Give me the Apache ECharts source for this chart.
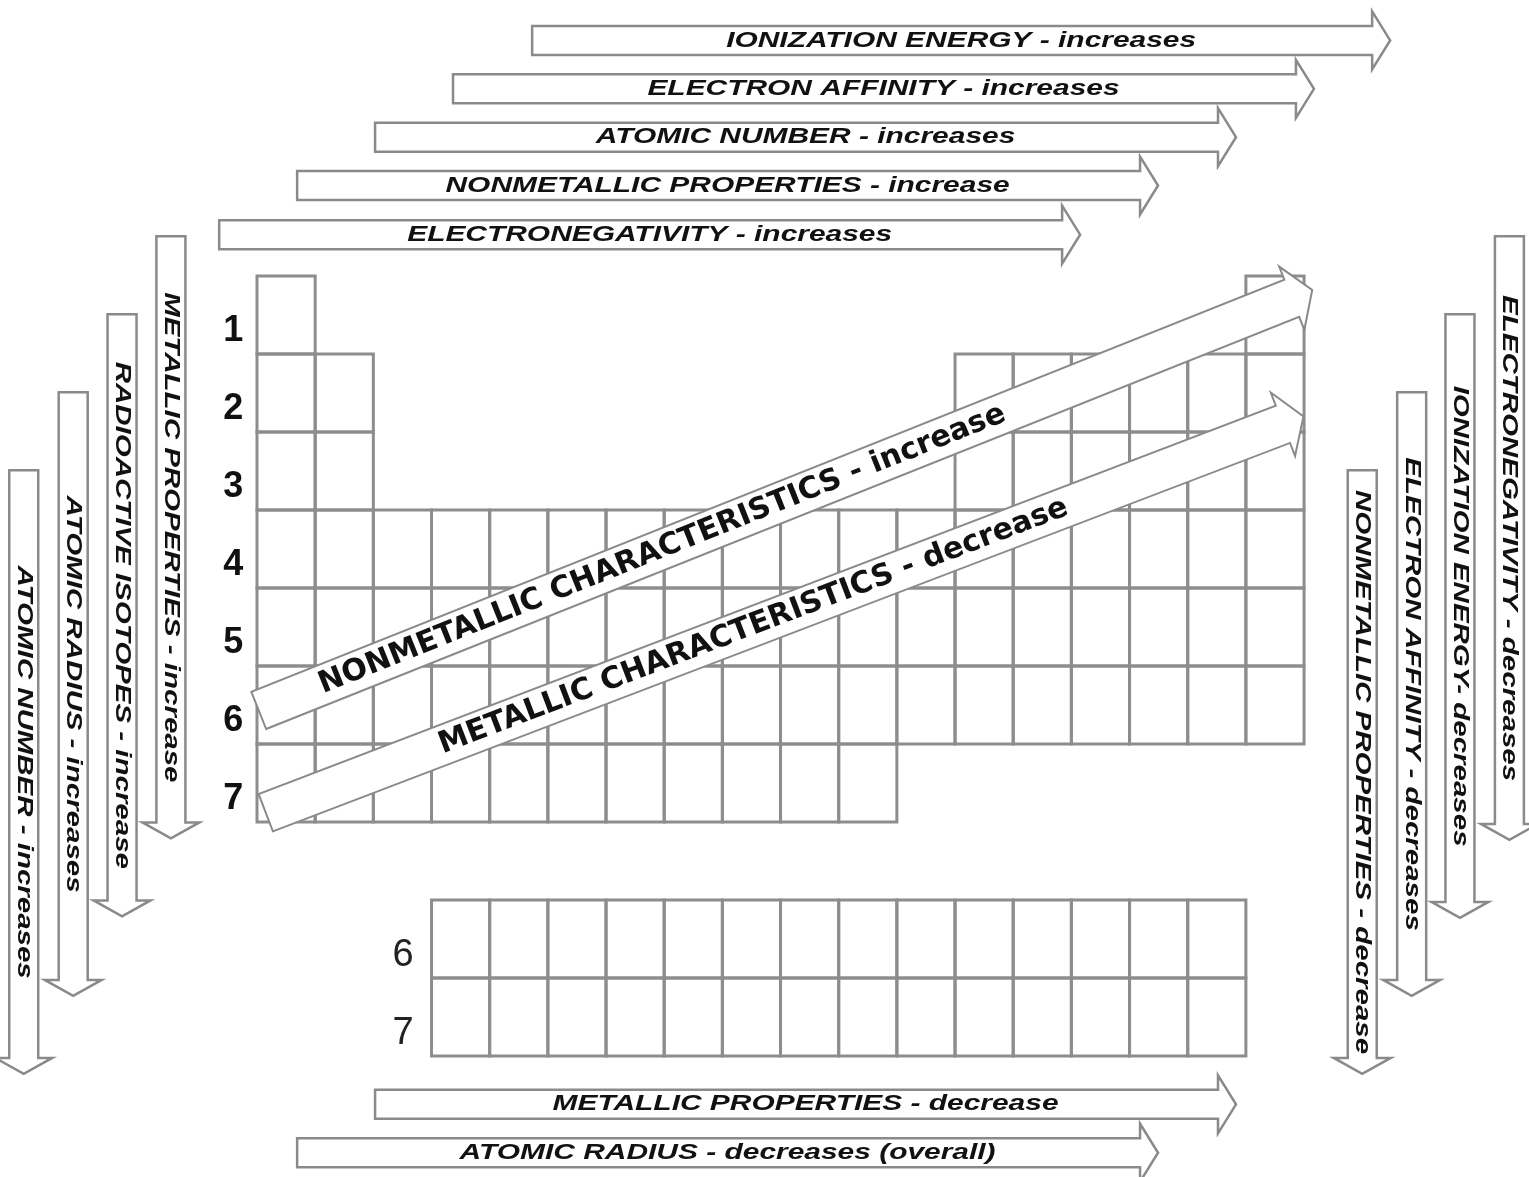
<!DOCTYPE html>
<html>
<head>
<meta charset="utf-8">
<style>
html,body{margin:0;padding:0;background:#ffffff;}
#chart{width:1529px;height:1177px;}
</style>
<script src="https://cdn.jsdelivr.net/npm/echarts@6/dist/echarts.min.js"></script>
</head>
<body>
<div id="chart"></div>
<script>
// ---------- DATA ----------
// Main table: groups present in each period (period = row slot)
const periodLabels = ['1', '2', '3', '4', '5', '6', '7'];
const period1Groups = [1, 18];
const period2Groups = [1, 2, 13, 14, 15, 16, 17, 18];
const period3Groups = [1, 2, 13, 14, 15, 16, 17, 18];
const period4Groups = [1, 2, 3, 4, 5, 6, 7, 8, 9, 10, 11, 12, 13, 14, 15, 16, 17, 18];
const period5Groups = [1, 2, 3, 4, 5, 6, 7, 8, 9, 10, 11, 12, 13, 14, 15, 16, 17, 18];
const period6Groups = [1, 2, 3, 4, 5, 6, 7, 8, 9, 10, 11, 12, 13, 14, 15, 16, 17, 18];
const period7Groups = [1, 2, 3, 4, 5, 6, 7, 8, 9, 10, 11];
// Detached f-block (periods 6 and 7), drawn in row slots 9 and 10
const fBlockLabels = ['6', '7'];
const fBlockRowSlots = [9, 10];
const fBlockColumns = [4, 5, 6, 7, 8, 9, 10, 11, 12, 13, 14, 15, 16, 17];

// Trend arrows, in table units: [fromX, fromY, toX, toY] (x = columns, y = rows)
const topArrowLabels = [
  'IONIZATION ENERGY - increases',
  'ELECTRON AFFINITY - increases',
  'ATOMIC NUMBER - increases',
  'NONMETALLIC PROPERTIES - increase',
  'ELECTRONEGATIVITY - increases',
  'METALLIC PROPERTIES - decrease',
  'ATOMIC RADIUS - decreases (overall)'
];
const topArrowSpans = [
  [4.73, -3.02, 19.48, -3.02],
  [3.37, -2.40, 18.17, -2.40],
  [2.03, -1.78, 16.83, -1.78],
  [0.69, -1.16, 15.49, -1.16],
  [-0.65, -0.53, 14.15, -0.53],
  [2.03, 10.62, 16.83, 10.62],
  [0.69, 11.24, 15.49, 11.24]
];
const sideArrowLabels = [
  'METALLIC PROPERTIES - increase',
  'RADIOACTIVE ISOTOPES - increase',
  'ATOMIC RADIUS - increases',
  'ATOMIC NUMBER - increases',
  'ELECTRONEGATIVITY - decreases',
  'IONIZATION ENERGY- decreases',
  'ELECTRON AFFINITY - decreases',
  'NONMETALLIC PROPERTIES - decrease'
];
const sideArrowSpans = [
  [-1.48, -0.51, -1.48, 7.21],
  [-2.32, 0.49, -2.32, 8.21],
  [-3.16, 1.49, -3.16, 9.23],
  [-4.01, 2.49, -4.01, 10.23],
  [21.53, -0.51, 21.53, 7.23],
  [20.68, 0.49, 20.68, 8.23],
  [19.85, 1.49, 19.85, 9.23],
  [19.00, 2.49, 19.00, 10.23]
];
const diagArrowLabels = [
  'NONMETALLIC CHARACTERISTICS - increase',
  'METALLIC CHARACTERISTICS - decrease'
];
const diagArrowSpans = [
  [0.03, 5.57, 18.14, 0.18],
  [0.15, 6.88, 17.99, 1.80]
];
const diagTextAt = [0.383, 0.47];

// ---------- BUILD ----------
const mainRows = [period1Groups, period2Groups, period3Groups, period4Groups,
                  period5Groups, period6Groups, period7Groups];
const cellData = [];
mainRows.forEach((groups, i) => groups.forEach(g => cellData.push([g, i + 1])));
fBlockRowSlots.forEach(slot => fBlockColumns.forEach(c => cellData.push([c, slot])));

const periodData = periodLabels.map((lab, i) => [i + 1]);
const fLabelData = fBlockRowSlots.map(s => [s]);

const LINE = '#8d8d8d';

function cellRender(params, api) {
  const g = api.value(0), r = api.value(1);
  const a = api.coord([g - 1, r - 1]);
  const b = api.coord([g, r]);
  return {
    type: 'rect',
    shape: { x: a[0], y: a[1], width: b[0] - a[0], height: b[1] - a[1] },
    style: { fill: 'none', stroke: LINE, lineWidth: 3 }
  };
}

function arrowRenderer(labels, opts) {
  return function (params, api) {
    const p0 = api.coord([api.value(0), api.value(1)]);
    const p1 = api.coord([api.value(2), api.value(3)]);
    const dx = p1[0] - p0[0], dy = p1[1] - p0[1];
    const L = Math.hypot(dx, dy);
    const ux = dx / L, uy = dy / L;
    const nx = -uy, ny = ux;
    const bx = p1[0] - ux * opts.head, by = p1[1] - uy * opts.head;
    const w = opts.half, hw = opts.headHalf;
    const pts = [
      [p0[0] + nx * w, p0[1] + ny * w],
      [bx + nx * w, by + ny * w],
      [bx + nx * hw, by + ny * hw],
      [p1[0], p1[1]],
      [bx - nx * hw, by - ny * hw],
      [bx - nx * w, by - ny * w],
      [p0[0] - nx * w, p0[1] - ny * w]
    ];
    const t = opts.textAt ? opts.textAt[params.dataIndex] : 0.5;
    const tx = p0[0] + dx * t, ty = p0[1] + dy * t;
    return {
      type: 'group',
      children: [
        { type: 'polygon', shape: { points: pts },
          style: { fill: '#ffffff', stroke: '#8a8a8a', lineWidth: opts.lw } },
        { type: 'text', x: tx, y: ty, rotation: -Math.atan2(dy, dx),
          scaleX: opts.scaleX,
          style: { text: labels[params.dataIndex], font: opts.font, fill: '#111111',
                   align: 'center', verticalAlign: 'middle' } }
      ]
    };
  };
}

const X0 = 257, CW = 58.17, Y0 = 276, RH = 78;

const option = {
  animation: false,
  backgroundColor: '#ffffff',
  grid: { left: 0, right: 0, top: 0, bottom: 0 },
  xAxis: { type: 'value', min: -X0 / CW, max: (1529 - X0) / CW, show: false },
  yAxis: { type: 'value', inverse: true, min: -Y0 / RH, max: (1177 - Y0) / RH, show: false },
  series: [
    { type: 'custom', name: 'cells', data: cellData, renderItem: cellRender, z: 1 },
    { type: 'custom', name: 'periods', data: periodData, z: 2,
      renderItem: function (params, api) {
        const p = api.coord([-0.41, api.value(0) - 0.3]);
        return { type: 'text', x: p[0], y: p[1],
          style: { text: periodLabels[params.dataIndex], font: 'bold 36px "Liberation Sans", Arial, sans-serif',
                   fill: '#111', align: 'center', verticalAlign: 'middle' } };
      } },
    { type: 'custom', name: 'fLabels', data: fLabelData, z: 2,
      renderItem: function (params, api) {
        const p = api.coord([2.51, api.value(0) - 0.29]);
        return { type: 'text', x: p[0], y: p[1],
          style: { text: fBlockLabels[params.dataIndex], font: '38px "Liberation Sans Narrow", "Liberation Sans", Arial, sans-serif',
                   fill: '#222', align: 'center', verticalAlign: 'middle' } };
      } },
    { type: 'custom', name: 'rowArrows', data: topArrowSpans, z: 3,
      renderItem: arrowRenderer(topArrowLabels, { half: 14.5, headHalf: 29, head: 18, lw: 2.5,
        scaleX: 1.36, font: 'italic bold 22px "Liberation Sans", Arial, sans-serif' }) },
    { type: 'custom', name: 'columnArrows', data: sideArrowSpans, z: 3,
      renderItem: arrowRenderer(sideArrowLabels, { half: 14.5, headHalf: 28.5, head: 16, lw: 2.5,
        scaleX: 1.34, font: 'italic bold 22px "Liberation Sans", Arial, sans-serif' }) },
    { type: 'custom', name: 'diagonalArrows', data: diagArrowSpans, z: 4,
      renderItem: arrowRenderer(diagArrowLabels, { half: 20, headHalf: 34, head: 22, lw: 2,
        scaleX: 1, textAt: diagTextAt, font: 'bold 30px "DejaVu Sans", Verdana, sans-serif' }) }
  ]
};

const chart = echarts.init(document.getElementById('chart'), null, { renderer: 'canvas' });
chart.setOption(option);
</script>
</body>
</html>
